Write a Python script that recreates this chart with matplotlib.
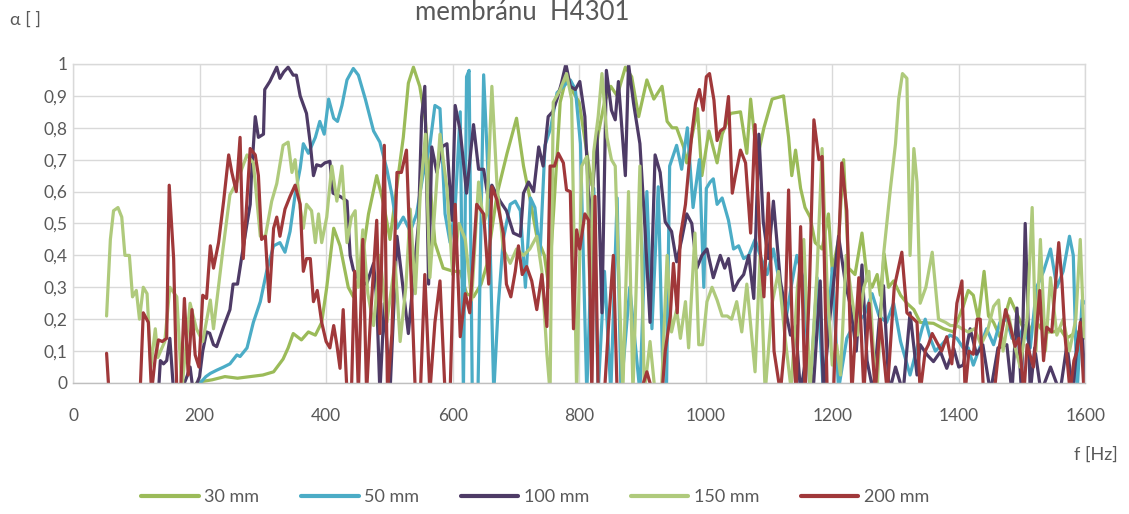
import matplotlib
matplotlib.use("Agg")
import matplotlib.pyplot as plt

plt.rcParams['font.family'] = ['Lato', 'DejaVu Sans']

# ---------------- data ----------------
f30 = [195,205,220,240,260,280,300,317,332,340,
       348,361,372,383,393,401,412,422,435,443,
       454,467,480,491,501,512,522,530,538,548,
       557,564,572,585,601,612,622,633,645,654,
       670,686,701,712,722,733,745,752,760,770,
       780,791,800,810,820,830,840,850,860,873,
       883,894,907,918,931,939,947,954,965,970,
       978,987,994,1005,1018,1026,1039,1055,1065,1071,
       1081,1092,1105,1123,1131,1136,1142,1150,1157,1165,
       1173,1184,1194,1200,1210,1218,1226,1236,1247,1255,
       1263,1271,1276,1282,1289,1297,1308,1318,1329,1339,
       1360,1376,1392,1397,1407,1415,1423,1431,1440,1447,
       1455,1465,1476,1481,1489,1500,1510,1520,1530,1539,
       1550,1560,1570,1587,1600]
a30 = [0.0,0.005,0.01,0.02,0.015,0.02,0.025,0.035,0.075,0.11,
       0.155,0.135,0.16,0.15,0.19,0.30,0.485,0.43,0.30,0.27,
       0.35,0.53,0.65,0.56,0.45,0.62,0.77,0.94,0.99,0.93,
       0.82,0.63,0.44,0.36,0.35,0.35,0.28,0.27,0.31,0.37,
       0.59,0.72,0.83,0.68,0.58,0.46,0.40,0.30,0.55,0.88,
       0.96,0.91,0.88,0.75,0.62,0.78,0.88,0.93,0.90,0.99,
       0.96,0.835,0.95,0.89,0.93,0.82,0.80,0.80,0.74,0.69,
       0.77,0.86,0.65,0.79,0.69,0.78,0.845,0.85,0.72,0.89,
       0.70,0.80,0.89,0.90,0.77,0.65,0.73,0.61,0.55,0.52,
       0.44,0.42,0.53,0.35,0.45,0.70,0.36,0.34,0.47,0.33,
       0.30,0.34,0.275,0.405,0.30,0.32,0.275,0.25,0.23,0.19,
       0.187,0.17,0.16,0.19,0.24,0.29,0.275,0.20,0.35,0.21,
       0.19,0.145,0.23,0.265,0.23,0.18,0.15,0.20,0.17,0.16,
       0.16,0.17,0.14,0.16,0.14]

s50 = [(195,-0.01),(201,0.0),(210,0.02),(217,0.03),(227,0.04),(238,0.05),(248,0.06),(259,0.088),
       (264,0.083),(275,0.11),(285,0.19),(296,0.255),(306,0.35),(317,0.43),(327,0.44),(335,0.41),
       (343,0.475),(351,0.59),(359,0.673),(364,0.75),(372,0.72),(383,0.77),(390,0.82),(397,0.78),
       (404,0.89),(412,0.83),(418,0.82),(425,0.87),(433,0.95),(443,0.986),(451,0.965),(462,0.89),
       (475,0.79),(485,0.755),(496,0.67),(504,0.59),(512,0.485),(522,0.52),(533,0.475),(543,0.53),
       (553,0.65),(564,0.745),(572,0.87),(580,0.86),(588,0.53),(596,0.44),(604,0.55),(612,0.85),
       (617,-0.03),(622,0.96),(626,0.98),(631,-0.03),(640,-0.03),(649,0.966),(657,0.61),(665,-0.03),
       (672,0.24),(680,0.45),(691,0.56),(699,0.57),(707,0.54),(715,0.30),(723,0.58),(730,0.55),
       (738,0.40),(746,0.745),(755,0.80),(765,0.91),(775,0.93),(786,0.95),(794,0.92),(802,0.75),
       (812,-0.03),(823,0.61),(830,-0.03),(840,0.35),(850,-0.03),(860,0.58),(866,-0.03),(880,0.30),
       (896,-0.03),(907,0.60),(915,0.17),(925,0.615),(933,-0.03),(938,-0.02),(943,0.68),(954,0.745),
       (962,0.67),(971,0.80),(980,0.55),(990,0.70),(997,0.30),(1001,0.61),(1007,0.63),(1012,0.64),
       (1018,0.56),(1026,0.58),(1036,0.51),(1044,0.42),(1052,0.43),(1060,0.39),(1068,0.40),(1078,0.45),
       (1086,0.40),(1097,0.34),(1107,0.42),(1118,0.30),(1126,0.19),(1135,0.30),(1144,0.40),(1155,0.32),
       (1165,-0.03),(1176,0.33),(1186,-0.03),(1200,0.36),(1210,-0.02),(1223,0.14),(1236,0.19),(1250,0.21),
       (1263,0.28),(1274,0.21),(1286,0.19),(1297,0.25),(1308,0.13),(1323,0.025),(1334,0.11),(1342,0.17),
       (1347,0.20),(1355,0.14),(1363,0.10),(1373,0.12),(1386,0.15),(1397,0.14),(1407,0.11),(1415,0.11),
       (1423,0.056),(1433,0.11),(1444,0.17),(1455,0.12),(1465,0.19),(1476,0.20),(1484,0.14),(1495,0.14),
       (1503,0.18),(1513,0.11),(1523,0.30),(1534,0.35),(1545,0.42),(1555,0.30),(1565,0.35),(1575,0.46),
       (1581,0.40),(1587,-0.03),(1595,0.26),(1600,0.25)]

s100 = [(135,-0.03),(138,0.07),(143,0.06),(148,0.07),(153,0.14),(159,-0.03),(170,-0.03),(180,0.02),
        (185,0.05),(190,-0.03),(200,0.02),(205,0.10),(211,0.16),(216,0.156),(222,0.12),(227,0.114),
        (238,0.177),(248,0.23),(253,0.31),(260,0.31),(267,0.40),(275,0.50),(280,0.56),(282,0.65),
        (288,0.835),(293,0.77),(301,0.78),(303,0.92),(311,0.945),(322,0.99),(327,0.955),(333,0.975),
        (340,0.99),(348,0.965),(353,0.965),(359,0.90),(369,0.845),(375,0.75),(380,0.65),(385,0.684),
        (392,0.68),(398,0.69),(406,0.695),(411,0.595),(422,0.585),(433,0.57),(438,0.40),(443,0.355),
        (453,0.32),(464,0.31),(475,0.375),(480,0.26),(485,-0.03),(492,0.25),(501,-0.03),(512,0.46),
        (530,0.155),(546,0.50),(551,0.835),(556,0.93),(562,0.31),(567,0.74),(575,0.66),(583,0.74),
        (591,0.75),(599,0.51),(604,0.87),(612,0.79),(622,0.595),(633,0.81),(641,0.67),(649,0.67),
        (656,0.58),(662,0.62),(675,0.57),(685,0.54),(696,0.47),(707,0.46),(712,0.595),(720,0.63),
        (728,0.60),(736,0.74),(743,0.68),(751,0.835),(758,0.85),(765,0.89),(772,0.94),(779,1.0),
        (786,0.93),(794,0.92),(801,0.945),(809,0.835),(817,0.49),(828,0.79),(836,0.22),(843,0.98),
        (851,0.855),(857,0.825),(862,0.945),(873,0.65),(878,1.0),(886,0.876),(896,0.75),(904,0.485),
        (912,0.19),(920,0.715),(928,0.66),(936,0.505),(946,0.475),(954,0.38),(962,0.45),(970,0.53),
        (978,0.50),(986,0.36),(994,0.40),(1002,0.42),(1012,0.33),(1023,0.40),(1030,0.36),(1036,0.39),
        (1044,0.29),(1052,0.32),(1060,0.34),(1068,0.40),(1076,0.265),(1084,0.78),(1091,0.505),(1099,0.39),
        (1107,0.57),(1118,0.32),(1126,0.23),(1134,0.15),(1142,0.18),(1150,-0.03),(1160,0.10),(1170,-0.02),
        (1181,0.32),(1186,-0.03),(1196,0.20),(1210,0.46),(1221,0.31),(1229,0.24),(1238,0.10),(1247,0.37),
        (1255,0.07),(1265,-0.03),(1274,0.19),(1281,0.305),(1290,-0.03),(1300,0.05),(1312,-0.03),(1323,0.22),
        (1334,0.025),(1339,0.12),(1350,0.088),(1360,0.067),(1371,0.098),(1381,0.046),(1392,0.108),(1400,0.05),
        (1407,0.056),(1418,0.17),(1428,0.09),(1438,0.12),(1450,-0.03),(1462,0.11),(1476,0.12),(1484,-0.03),
        (1492,0.235),(1499,-0.03),(1505,0.50),(1513,-0.03),(1520,0.11),(1530,-0.03),(1545,0.05),(1560,-0.03),
        (1571,0.12),(1580,-0.03),(1587,0.12),(1594,0.20),(1600,-0.02)]

s150 = [(53,0.21),(59,0.45),(64,0.54),(71,0.55),(77,0.52),(82,0.40),(89,0.40),(94,0.27),
        (100,0.29),(105,0.20),(111,0.30),(117,0.28),(123,0.05),(130,0.17),(134,0.08),(145,0.13),
        (153,0.30),(164,0.27),(172,-0.02),(185,0.25),(195,0.17),(205,0.13),(217,0.26),(222,0.17),
        (237,0.42),(248,0.59),(259,0.63),(275,0.715),(285,0.69),(296,0.46),(304,0.46),(314,0.57),
        (322,0.625),(332,0.745),(340,0.755),(346,0.66),(351,0.70),(359,0.55),(364,0.485),(369,0.56),
        (377,0.54),(383,0.44),(388,0.53),(393,0.44),(401,0.52),(409,0.68),(417,0.57),(425,0.68),
        (433,0.44),(440,0.52),(446,0.54),(451,0.30),(458,0.48),(466,0.28),(475,0.18),(485,0.40),
        (496,0.19),(509,0.38),(517,0.13),(526,0.30),(533,0.545),(541,0.28),(549,0.60),(557,0.78),
        (564,0.33),(572,0.55),(580,0.78),(591,0.61),(600,0.34),(610,0.50),(620,0.45),(630,0.26),
        (641,0.63),(649,0.50),(654,0.53),(662,0.93),(670,0.625),(680,0.42),(691,0.375),(701,0.42),
        (712,0.40),(722,0.42),(733,0.46),(741,0.35),(749,0.09),(754,-0.03),(759,0.88),(770,0.92),
        (780,0.97),(788,0.89),(796,-0.03),(804,0.68),(812,0.71),(817,0.275),(823,0.725),(830,0.835),
        (836,0.97),(844,0.77),(851,0.70),(857,0.68),(862,0.37),(869,-0.03),(878,0.60),(885,-0.03),
        (896,0.68),(903,-0.03),(912,0.13),(920,-0.03),(930,-0.03),(939,0.40),(946,0.16),(954,0.23),
        (960,0.14),(968,0.255),(973,0.11),(983,0.47),(989,0.12),(995,0.12),(1002,0.255),(1010,0.30),
        (1018,0.26),(1026,0.21),(1034,0.21),(1041,0.20),(1049,0.255),(1057,0.16),(1065,0.31),(1072,0.16),
        (1078,0.035),(1086,0.40),(1094,-0.03),(1105,0.25),(1115,0.35),(1125,0.15),(1135,-0.02),(1145,0.30),
        (1155,0.45),(1165,-0.02),(1176,0.35),(1184,0.735),(1192,0.30),(1200,0.056),(1207,0.12),(1213,0.025),
        (1222,0.40),(1230,0.28),(1240,0.15),(1250,0.30),(1258,0.35),(1265,0.10),(1271,-0.02),(1281,0.40),
        (1292,0.61),(1300,0.75),(1305,0.89),(1311,0.97),(1318,0.955),(1323,0.40),(1329,0.735),(1334,0.63),
        (1339,0.25),(1348,0.30),(1358,0.41),(1368,0.20),(1379,0.19),(1387,0.18),(1397,0.18),(1405,0.17),
        (1415,0.16),(1425,0.17),(1435,0.12),(1445,0.16),(1455,0.24),(1463,0.26),(1470,0.10),(1479,0.21),
        (1488,0.12),(1497,0.05),(1508,0.20),(1516,0.55),(1522,0.10),(1529,0.45),(1537,0.10),(1545,0.33),
        (1555,0.15),(1565,0.20),(1575,0.10),(1585,0.20),(1592,0.45),(1598,0.145)]

s200 = [(53,0.093),(59,-0.1),(100,-0.1),(106,-0.03),(111,0.22),(119,0.19),(124,-0.03),(130,0.08),
        (135,0.135),(141,0.13),(148,0.14),(152,0.62),(159,0.39),(164,-0.03),(170,-0.03),(176,0.265),
        (182,0.025),(188,0.23),(193,0.088),(199,0.05),(205,0.275),(211,0.265),(217,0.43),(222,0.36),
        (230,0.44),(238,0.57),(246,0.715),(251,0.66),(258,0.60),(264,0.77),(269,0.39),(280,0.735),
        (288,0.715),(293,0.65),(298,0.45),(304,0.46),(310,0.255),(317,0.485),(322,0.52),(327,0.46),
        (335,0.545),(343,0.585),(351,0.62),(359,0.56),(364,0.35),(369,0.39),(375,0.39),(380,0.255),
        (386,0.29),(393,0.19),(400,0.13),(406,0.11),(412,0.18),(417,0.12),(422,0.046),(427,0.23),
        (433,-0.03),(440,-0.03),(445,0.35),(451,-0.03),(458,0.45),(464,-0.03),(470,0.20),(480,0.51),
        (485,0.155),(492,0.745),(497,-0.03),(504,0.155),(512,0.66),(519,0.66),(527,0.73),(535,0.29),
        (541,-0.03),(549,-0.03),(556,0.34),(564,-0.03),(572,0.19),(580,0.32),(588,-0.03),(596,-0.03),
        (604,0.56),(612,0.145),(620,0.28),(627,0.22),(638,0.56),(649,0.53),(657,0.31),(662,0.615),
        (670,0.574),(680,0.47),(685,0.31),(692,0.27),(699,0.35),(704,0.43),(710,0.34),(717,0.365),
        (725,0.32),(733,0.23),(741,0.34),(749,0.177),(754,0.68),(761,0.68),(767,0.72),(775,0.69),
        (780,0.605),(786,0.60),(791,0.17),(796,0.48),(801,0.42),(809,0.53),(815,0.51),(820,-0.03),
        (825,0.585),(830,-0.03),(840,-0.03),(847,0.20),(854,0.40),(860,-0.03),(870,-0.03),(880,-0.03),
        (891,-0.03),(900,-0.01),(907,0.035),(912,0.0),(918,-0.03),(931,-0.03),(936,0.10),(944,0.21),
        (949,0.375),(955,0.22),(960,0.46),(968,0.56),(973,0.67),(978,0.78),(984,0.877),(990,0.92),
        (996,0.855),(1001,0.96),(1006,0.97),(1013,0.887),(1018,0.76),(1023,0.79),(1030,0.80),(1036,0.898),
        (1042,0.595),(1047,0.65),(1055,0.73),(1063,0.69),(1071,0.47),(1078,0.81),(1086,0.42),(1092,0.27),
        (1099,0.595),(1108,0.10),(1118,-0.03),(1124,0.10),(1131,0.605),(1137,0.15),(1143,-0.03),(1150,0.49),
        (1157,-0.03),(1164,0.30),(1171,0.825),(1179,0.70),(1184,0.71),(1192,-0.03),(1202,-0.03),(1215,0.69),
        (1223,0.54),(1231,-0.03),(1242,0.33),(1250,-0.03),(1258,0.25),(1268,-0.03),(1276,0.20),(1287,-0.03),
        (1298,0.30),(1310,0.41),(1318,0.22),(1329,0.20),(1334,0.19),(1339,-0.03),(1347,0.10),(1352,0.12),
        (1358,0.155),(1366,0.125),(1373,0.10),(1381,0.145),(1389,0.06),(1397,0.25),(1405,0.32),(1410,-0.03),
        (1416,0.10),(1423,0.09),(1429,0.20),(1434,0.20),(1439,-0.03),(1450,-0.03),(1456,-0.03),(1463,0.10),
        (1474,0.23),(1481,0.18),(1489,0.115),(1495,0.14),(1503,-0.03),(1508,0.12),(1518,0.05),(1528,0.29),
        (1534,0.07),(1539,0.175),(1547,0.16),(1558,0.44),(1563,0.32),(1568,0.145),(1576,-0.03),(1582,0.07),
        (1587,0.10),(1592,0.19),(1598,-0.03)]

labels = ["30 mm", "50 mm", "100 mm", "150 mm", "200 mm"]
colors = ["#9BBB59", "#4BACC6", "#4E3B66", "#AFCA7C", "#A0383A"]
x_ticks = [0, 200, 400, 600, 800, 1000, 1200, 1400, 1600]
y_ticks = [0, 0.1, 0.2, 0.3, 0.4, 0.5, 0.6, 0.7, 0.8, 0.9, 1.0]
y_tick_labels = ["0", "0,1", "0,2", "0,3", "0,4", "0,5", "0,6", "0,7", "0,8", "0,9", "1"]
title_text = "membránu  H4301"

# ---------------- figure ----------------
fig = plt.figure(figsize=(11.29, 5.14), dpi=100)
ax = fig.add_axes([0.0647, 0.2549, 0.8966, 0.6206])

series = [list(zip(f30, a30)), s50, s100, s150, s200]
for pts, lab, col in zip(series, labels, colors):
    xs = [p[0] for p in pts]
    ys = [p[1] for p in pts]
    ax.plot(xs, ys, color=col, lw=2.3, label=lab,
            solid_joinstyle='round', solid_capstyle='round')

ax.set_xlim(0, 1600)
ax.set_ylim(0, 1)
ax.set_xticks(x_ticks)
ax.set_xticklabels([str(t) for t in x_ticks])
ax.set_yticks(y_ticks)
ax.set_yticklabels(y_tick_labels)
ax.grid(True, color="#D9D9D9", lw=1.0)
ax.set_axisbelow(True)
for sp in ax.spines.values():
    sp.set_color("#D9D9D9")
    sp.set_linewidth(1.0)
ax.spines['bottom'].set_color("#BFBFBF")
ax.tick_params(axis='both', length=0, labelsize=12.5, colors="#595959")
ax.tick_params(axis='x', pad=18)
ax.tick_params(axis='y', pad=4)

fig.text(0.463, 1 - 12 / 514, title_text, ha='center', va='center',
         fontsize=18.5, color="#595959")
fig.text(10 / 1129, 1 - 20 / 514, "α [ ]", ha='left', va='center',
         fontsize=13, color="#595959")
fig.text(1118 / 1129, 1 - 455 / 514, "f [Hz]", ha='right', va='center',
         fontsize=13, color="#595959")

leg = fig.legend(loc='center', bbox_to_anchor=(0.474, 17 / 514), ncol=5,
                 frameon=False, fontsize=13, handlelength=3.2,
                 columnspacing=2.3, handletextpad=0.3)
for t in leg.get_texts():
    t.set_color("#595959")
for h in leg.get_lines():
    h.set_linewidth(3.0)

fig.savefig("out.png", dpi=100)
